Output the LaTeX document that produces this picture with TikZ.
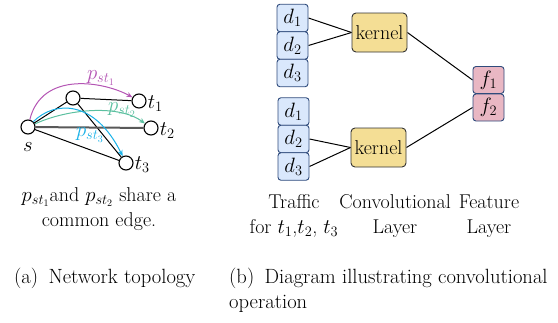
\documentclass[tikz,border=0pt]{standalone}
\usepackage{fontspec}
\usetikzlibrary{arrows.meta,backgrounds}
\definecolor{dfill}{HTML}{DAE8FC}
\definecolor{bline}{HTML}{2F4B7C}
\definecolor{kfill}{HTML}{F4DE95}
\definecolor{ffill}{HTML}{E9B7C3}
\definecolor{cmag}{HTML}{B455B4}
\definecolor{cgreen}{HTML}{5CC0A0}
\definecolor{ccyan}{HTML}{1AB2E8}
\tikzset{
  vert/.style={circle,draw=black,fill=white,minimum size=14pt,inner sep=0pt,line width=1.1pt},
  dbox/.style={draw=bline,fill=dfill,rounded corners=3pt,minimum width=31pt,minimum height=27.5pt,inner sep=0pt,line width=0.9pt},
  fbox/.style={draw=bline,fill=ffill,rounded corners=3pt,minimum width=31pt,minimum height=27pt,inner sep=0pt,line width=0.9pt},
  kbox/.style={draw=black!80,fill=kfill,rounded corners=4pt,minimum width=55pt,minimum height=39pt,inner sep=0pt,line width=0.9pt},
  blk/.style={draw=black,line width=1pt},
  arrpath/.style={line width=1pt,-{Stealth[length=6pt,width=5pt]}},
  lbl/.style={inner sep=0pt},
  capt/.style={align=center,inner sep=0pt},
  captxt/.style={inner sep=0pt,anchor=base west,font=\fontsize{20.6}{25}\selectfont},
}
\begin{document}
\begin{tikzpicture}[x=1pt,y=-1pt,font=\fontsize{20}{25}\selectfont]
\useasboundingbox (0,0) rectangle (558,322);
% left network
\node[vert] (s) at (28,127) {};
\node[vert] (m) at (73,98) {};
\node[vert] (t1) at (139,101) {};
\node[vert] (t2) at (151,128) {};
\node[vert] (t3) at (126,163) {};
\node[lbl] (ls) at (28,147) {$s$};
\node[lbl,anchor=west] (lt1) at ([xshift=1pt,yshift=-3pt]t1.east) {$t_1$};
\node[lbl,anchor=west] (lt2) at ([xshift=1pt,yshift=-3pt]t2.east) {$t_2$};
\node[lbl,anchor=west] (lt3) at ([xshift=1pt,yshift=-2pt]t3.east) {$t_3$};
\begin{scope}[on background layer]
\draw[blk] (s) -- (m);
\draw[blk] (m) -- (t1);
\draw[blk] (m) -- (t3);
\draw[blk] (s) -- (t3);
\draw[draw=black!65,line width=2pt] (s) -- (t2);
\end{scope}
\draw[arrpath,cmag] (s) .. controls (42,70) and (105,82) .. (t1);
\draw[arrpath,cgreen] (s) .. controls (70,108) and (120,105) .. (t2);
\draw[arrpath,ccyan] (s) .. controls (55,100) and (95,100) .. (t3);
\node[lbl,text=cmag] (p1) at (101,78) {$p_{st_1}$};
\node[lbl,text=cgreen] (p2) at (122,110) {$p_{st_2}$};
\node[lbl,text=ccyan] (p3) at (90,135) {$p_{st_3}$};
\node[capt] (lcap) at (99,209) {$p_{st_1}$and $p_{st_2}$ share a\\common edge.};
% right diagram
\node[dbox] (a1) at (292.5,18) {$d_1$};
\node[dbox] (a2) at (292.5,45.5) {$d_2$};
\node[dbox] (a3) at (292.5,73) {$d_3$};
\node[dbox] (b1) at (293.5,111.5) {$d_1$};
\node[dbox] (b2) at (293.5,139) {$d_2$};
\node[dbox] (b3) at (293.5,166.5) {$d_3$};
\node[kbox] (k1) at (379.5,32.5) {kernel};
\node[kbox] (k2) at (378.5,147.5) {kernel};
\node[fbox] (f1) at (488.5,80) {$f_1$};
\node[fbox] (f2) at (488.5,107.5) {$f_2$};
\begin{scope}[on background layer]
\draw[blk] (a1.east) -- (k1.west);
\draw[blk] (a2.east) -- (k1.west);
\draw[blk] (b2.east) -- (k2.west);
\draw[blk] (b3.east) -- (k2.west);
\draw[blk] (k1.east) -- (f1.west);
\draw[blk] (k2.east) -- (f2.west);
\end{scope}
\node[capt] (tr) at (294,216) {Traffic\\for $t_1$,$t_2$, $t_3$};
\node[capt] (cl) at (395,216) {Convolutional\\Layer};
\node[capt] (fl) at (489,216) {Feature\\Layer};
% captions
\node[captxt] (capa) at (14,283) {(a)\enspace Network topology};
\node[captxt] (capb) at (229,283) {(b)\enspace Diagram illustrating convolutional};
\node[captxt] (capb2) at (229,308) {operation};
\end{tikzpicture}
\end{document}
